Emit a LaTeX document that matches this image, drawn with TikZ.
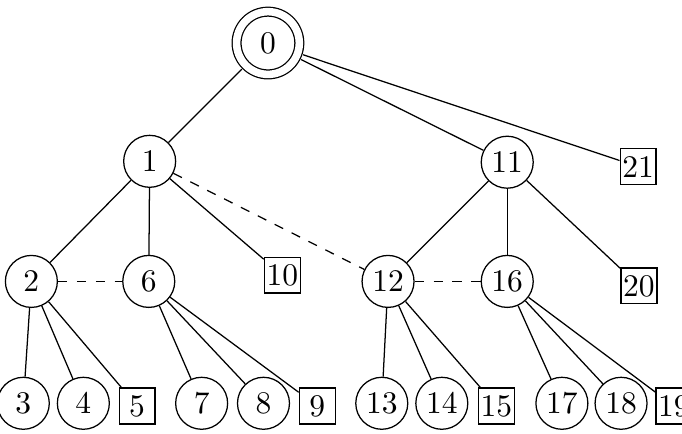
\documentclass[tikz,border=0pt]{standalone}
\usepackage{tikz}
\usetikzlibrary{positioning}
\tikzset{
  state/.style={circle, draw, minimum size=5.8mm, inner sep=1pt},
  root/.style={state, double, double distance=2.4pt, minimum size=7mm, outer sep=1.8pt},
  leaf/.style={rectangle, draw, minimum size=4mm, inner sep=0.6pt},
  edge/.style={draw},
  cross/.style={draw, dashed}
}
\begin{document}
\begin{tikzpicture}
\useasboundingbox (0,0) rectangle (7.61,-4.84);
% top levels
\node[root] (n0) at (2.99,-0.48) {0};
\node[state] (n1) at (1.67,-1.80) {1};
\node[state] (n11) at (5.66,-1.81) {11};
\node[leaf] (n21) at (7.12,-1.86) {21};

\node[state] (n2) at (0.35,-3.14) {2};
\node[state] (n6) at (1.66,-3.14) {6};
\node[leaf] (n10) at (3.15,-3.07) {10};
\node[state] (n12) at (4.33,-3.14) {12};
\node[state] (n16) at (5.66,-3.14) {16};
\node[leaf] (n20) at (7.13,-3.19) {20};

% bottom row
\node[state] (n3) at (0.26,-4.50) {3};
\node[state] (n4) at (0.93,-4.50) {4};
\node[leaf] (n5) at (1.53,-4.53) {5};
\node[state] (n7) at (2.25,-4.50) {7};
\node[state] (n8) at (2.94,-4.50) {8};
\node[leaf] (n9) at (3.54,-4.53) {9};
\node[state] (n13) at (4.26,-4.50) {13};
\node[state] (n14) at (4.93,-4.50) {14};
\node[leaf] (n15) at (5.54,-4.53) {15};
\node[state] (n17) at (6.27,-4.50) {17};
\node[state] (n18) at (6.93,-4.50) {18};
\node[leaf] (n19) at (7.52,-4.53) {19};

\draw[edge] (n0) -- (n1); \draw[edge] (n0) -- (n11); \draw[edge] (n0) -- (n21);
\draw[edge] (n1) -- (n2); \draw[edge] (n1) -- (n6); \draw[edge] (n1) -- (n10);
\draw[edge] (n11) -- (n12); \draw[edge] (n11) -- (n16); \draw[edge] (n11) -- (n20);
\draw[edge] (n2) -- (n3); \draw[edge] (n2) -- (n4); \draw[edge] (n2) -- (n5);
\draw[edge] (n6) -- (n7); \draw[edge] (n6) -- (n8); \draw[edge] (n6) -- (n9);
\draw[edge] (n12) -- (n13); \draw[edge] (n12) -- (n14); \draw[edge] (n12) -- (n15);
\draw[edge] (n16) -- (n17); \draw[edge] (n16) -- (n18); \draw[edge] (n16) -- (n19);
\draw[cross] (n1) -- (n12); \draw[cross] (n2) -- (n6); \draw[cross] (n12) -- (n16);
\end{tikzpicture}
\end{document}
